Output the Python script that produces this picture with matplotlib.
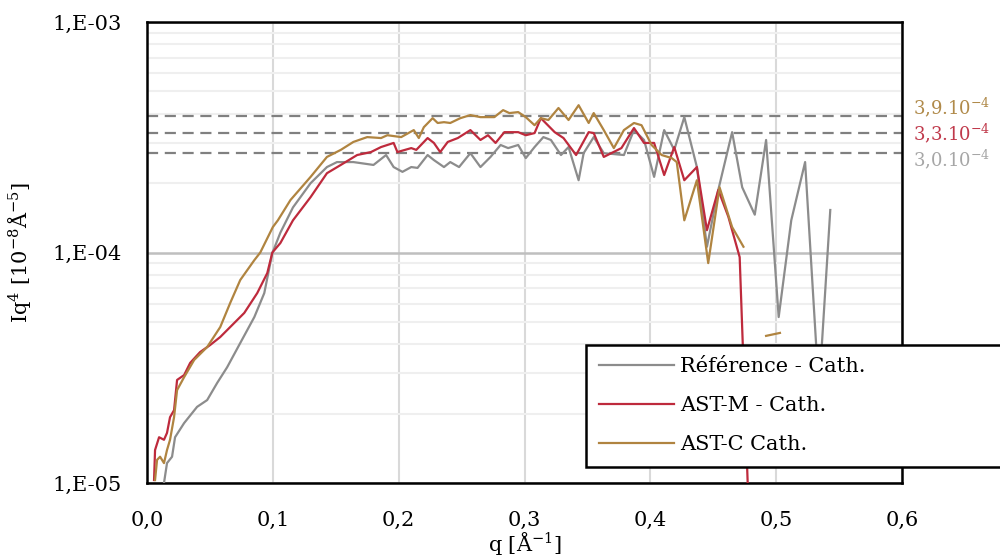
import matplotlib
matplotlib.use("Agg")
import matplotlib.pyplot as plt
import numpy as np
from matplotlib.ticker import LogLocator, NullFormatter

# --- data (q in 1/Å, Iq4 in units of 1e-4) ---
q_ref = [0.0135, 0.0159, 0.0199, 0.0223, 0.0295, 0.0398, 0.0478, 0.0558, 0.0637,
         0.0741, 0.0853, 0.0932, 0.0996, 0.106, 0.116, 0.130, 0.143, 0.151, 0.164,
         0.180, 0.190, 0.196, 0.203, 0.210, 0.215, 0.223, 0.228, 0.236, 0.241,
         0.248, 0.257, 0.265, 0.273, 0.281, 0.287, 0.295, 0.301, 0.308, 0.315,
         0.321, 0.329, 0.335, 0.343, 0.347, 0.355, 0.363, 0.379, 0.387, 0.395,
         0.403, 0.411, 0.419, 0.427, 0.437, 0.445, 0.454, 0.465, 0.473, 0.483,
         0.492, 0.502, 0.512, 0.523, 0.534, 0.543]
I_ref = [0.100, 0.122, 0.130, 0.158, 0.182, 0.214, 0.229, 0.272, 0.318,
         0.405, 0.525, 0.667, 0.995, 1.22, 1.57, 2.00, 2.35, 2.47, 2.47,
         2.40, 2.65, 2.35, 2.24, 2.35, 2.33, 2.65, 2.52, 2.35, 2.47,
         2.35, 2.70, 2.35, 2.60, 2.93, 2.84, 2.93, 2.57, 2.87, 3.17,
         3.08, 2.65, 2.87, 2.06, 2.70, 3.17, 2.70, 2.65, 3.40, 3.08,
         2.13, 3.40, 2.79, 3.87, 2.35, 1.06, 1.87, 3.33, 1.92, 1.46,
         3.08, 0.525, 1.38, 2.47, 0.25, 1.53]

q_astm = [0.0056, 0.0064, 0.0096, 0.0135, 0.0159, 0.0183, 0.0215, 0.0239, 0.0295,
          0.0343, 0.0422, 0.0502, 0.0582, 0.0661, 0.0773, 0.0876, 0.0956, 0.0996,
          0.106, 0.116, 0.130, 0.143, 0.154, 0.167, 0.178, 0.186, 0.196, 0.199,
          0.210, 0.214, 0.223, 0.228, 0.233, 0.239, 0.247, 0.257, 0.265, 0.271,
          0.277, 0.284, 0.295, 0.301, 0.308, 0.313, 0.324, 0.331, 0.341, 0.351,
          0.355, 0.363, 0.377, 0.387, 0.395, 0.403, 0.411, 0.419, 0.427, 0.437,
          0.445, 0.454, 0.462, 0.471, 0.478]
I_astm = [0.103, 0.139, 0.158, 0.154, 0.165, 0.193, 0.207, 0.280, 0.294,
          0.332, 0.370, 0.397, 0.430, 0.475, 0.547, 0.667, 0.815, 1.00,
          1.10, 1.38, 1.74, 2.21, 2.40, 2.65, 2.73, 2.87, 2.99, 2.73,
          2.84, 2.79, 3.14, 2.99, 2.73, 3.02, 3.14, 3.40, 3.08, 3.23,
          2.99, 3.33, 3.33, 3.23, 3.30, 3.83, 3.33, 3.14, 2.65, 3.33,
          3.30, 2.60, 2.84, 3.47, 2.99, 2.99, 2.17, 2.87, 2.06, 2.35,
          1.25, 1.87, 1.43, 0.955, 0.08]

q_astc = [0.0064, 0.0080, 0.0104, 0.0135, 0.0159, 0.0183, 0.0215, 0.0239, 0.0295,
          0.0375, 0.0478, 0.0582, 0.0661, 0.0741, 0.0853, 0.090, 0.100, 0.104,
          0.114, 0.130, 0.143, 0.154, 0.164, 0.175, 0.186, 0.191, 0.202, 0.212,
          0.216, 0.220, 0.227, 0.231, 0.236, 0.241, 0.249, 0.257, 0.265, 0.276,
          0.283, 0.288, 0.295, 0.301, 0.308, 0.313, 0.319, 0.327, 0.335, 0.343,
          0.351, 0.355, 0.363, 0.371, 0.379, 0.387, 0.393, 0.401, 0.409, 0.417,
          0.421, 0.427, 0.437, 0.446, 0.455, 0.465, 0.474, 0.483, 0.492, 0.503]
I_astc = [0.103, 0.126, 0.130, 0.122, 0.139, 0.154, 0.193, 0.253, 0.288,
          0.342, 0.389, 0.475, 0.604, 0.760, 0.927, 1.00, 1.29, 1.38,
          1.69, 2.13, 2.60, 2.79, 3.02, 3.17, 3.14, 3.23, 3.17, 3.40,
          3.14, 3.50, 3.83, 3.65, 3.68, 3.65, 3.83, 3.95, 3.87, 3.87,
          4.15, 4.03, 4.07, 3.87, 3.57, 3.83, 3.76, 4.24, 3.76, 4.36,
          3.65, 4.03, 3.40, 2.84, 3.40, 3.65, 3.57, 2.93, 2.65, 2.57,
          2.47, 1.38, 2.06, 0.90, 1.92, 1.29, 1.06, np.nan, 0.435, 0.448]

labels = ["Référence - Cath.", "AST-M - Cath.", "AST-C Cath."]
colors = ["#8c8c8c", "#be2a3c", "#b08440"]

# plateau levels (dashed lines) and their annotations
plateau_levels = [3.9e-4, 3.3e-4, 2.7e-4]
plateau_texts = ["3,9.10$^{-4}$", "3,3.10$^{-4}$", "3,0.10$^{-4}$"]
plateau_text_y = [4.25e-4, 3.3e-4, 2.55e-4]
plateau_colors = ["#b08a4a", "#c0394b", "#a6a6a6"]

xticks = [0.0, 0.1, 0.2, 0.3, 0.4, 0.5, 0.6]
xticklabels = ["0,0", "0,1", "0,2", "0,3", "0,4", "0,5", "0,6"]
yticks = [1e-5, 1e-4, 1e-3]
yticklabels = ["1,E-05", "1,E-04", "1,E-03"]

plt.rcParams["font.family"] = ["DejaVu Serif"]
plt.rcParams["mathtext.fontset"] = "dejavuserif"
plt.rcParams["font.size"] = 15

fig = plt.figure(figsize=(10, 5.6), dpi=100)
ax = fig.add_axes([0.147, 0.1375, 0.755, 0.823])

series = [(q_ref, I_ref), (q_astm, I_astm), (q_astc, I_astc)]
for (q, I), lab, col in zip(series, labels, colors):
    ax.plot(q, np.array(I) * 1e-4, color=col, lw=1.6, label=lab, zorder=3)

for lvl in plateau_levels:
    ax.axhline(lvl, color="#808080", lw=1.6, ls=(0, (5, 3)), zorder=2)

for txt, ty, col in zip(plateau_texts, plateau_text_y, plateau_colors):
    ax.text(1.015, ty, txt, color=col, transform=ax.get_yaxis_transform(),
            ha="left", va="center", fontsize=13, clip_on=False)

ax.set_yscale("log")
ax.set_xlim(0, 0.6)
ax.set_ylim(1e-5, 1e-3)
ax.set_xticks(xticks, xticklabels)
ax.set_yticks(yticks, yticklabels)
ax.yaxis.set_minor_locator(LogLocator(base=10, subs=np.arange(2, 10)))
ax.yaxis.set_minor_formatter(NullFormatter())
ax.tick_params(which="both", length=0)
ax.tick_params(axis="x", pad=20)
ax.tick_params(axis="y", pad=18)

ax.grid(True, axis="x", which="major", color="#d9d9d9", lw=1.5, zorder=0)
ax.grid(True, axis="y", which="major", color="#bfbfbf", lw=1.8, zorder=0)
ax.grid(True, axis="y", which="minor", color="#efefef", lw=1.5, zorder=0)
ax.set_axisbelow(True)

for sp in ax.spines.values():
    sp.set_color("black")
    sp.set_linewidth(1.8)

ax.set_xlabel("q [Å$^{-1}$]", labelpad=0)
ax.set_ylabel("Iq$^4$ [10$^{-8}$Å$^{-5}$]", labelpad=14)

leg = ax.legend(loc="upper left", bbox_to_anchor=(0.586, 1 - 465 / 560, 0.45, 120 / 560),
                bbox_transform=fig.transFigure, mode="expand", fancybox=False,
                edgecolor="black", framealpha=1, borderpad=0.6, labelspacing=0.95,
                handlelength=3.6, handletextpad=0.3, borderaxespad=0, fontsize=15)
leg.get_frame().set_linewidth(1.8)
leg.set_zorder(5)

fig.savefig("out.png", dpi=100)
